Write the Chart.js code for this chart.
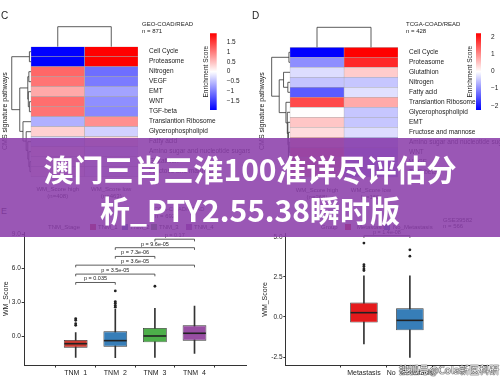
<!DOCTYPE html>
<html><head><meta charset="utf-8">
<script src="https://cdn.jsdelivr.net/npm/chart.js@4.4.1/dist/chart.umd.min.js"></script>
<style>
html,body{margin:0;padding:0;background:#fff;width:500px;height:381px;overflow:hidden;font-family:"Liberation Sans",Arial,sans-serif;}
canvas{position:absolute;}
.t{position:absolute;white-space:nowrap;color:#222;line-height:1;}
.vt{position:absolute;white-space:nowrap;color:#222;line-height:1;transform-origin:0 0;transform:rotate(-90deg);}
.sq{position:absolute;width:6px;height:6px;}
#banner{position:absolute;left:0;top:138px;width:500px;height:99px;background:rgba(139,62,170,0.87);z-index:10;}
#banner div{position:absolute;left:0;width:500px;text-align:center;color:#fff;font-family:"Noto Sans CJK SC",sans-serif;font-weight:700;font-size:30px;line-height:30px;}
#wm{position:absolute;left:399px;top:364px;font-family:"Noto Sans CJK SC",sans-serif;font-size:10px;line-height:12px;color:#fff;z-index:11;text-shadow:0 0 1px #000,0 0 1px #000,0 0 1px #333;}
</style></head><body>

<canvas id="heatC" width="250" height="200" style="left:0;top:0"></canvas>
<canvas id="barC" width="48" height="95" style="left:195px;top:25px"></canvas>
<canvas id="heatD" width="250" height="200" style="left:250px;top:0"></canvas>
<canvas id="barD" width="40" height="95" style="left:460px;top:25px"></canvas>
<canvas id="boxE" width="250" height="156" style="left:0;top:225px"></canvas>
<canvas id="boxF" width="250" height="156" style="left:250px;top:225px"></canvas>

<div class="t" style="left:1px;top:11px;font-size:10px">C</div>
<div class="t" style="left:252px;top:11px;font-size:10px">D</div>
<div class="t" style="left:1px;top:207px;font-size:9px">E</div>
<div class="t" style="left:142px;top:21px;font-size:6px">GEO-COAD/READ</div>
<div class="t" style="left:142px;top:28px;font-size:6px">n = 871</div>
<div class="t" style="left:406px;top:21px;font-size:6px">TCGA-COAD/READ</div>
<div class="t" style="left:406px;top:28px;font-size:6px">n = 428</div>
<div class="vt" style="left:1px;top:150px;font-size:7px">CMS signature pathways</div>
<div class="vt" style="left:258px;top:150px;font-size:7px">CMS signature pathways</div>

<div class="t" style="left:150px;top:206px;font-size:6px">TCGA-COAD/READ</div>
<div class="t" style="left:155px;top:213px;font-size:6px">n = 692</div>
<div class="t" style="left:48px;top:224px;font-size:6px">TNM_Stage</div>
<div class="sq" style="left:90px;top:224px;background:#cc3a30"></div><div class="t" style="left:98px;top:224px;font-size:6px">TNM_1</div>
<div class="sq" style="left:122px;top:224px;background:#377eb8"></div><div class="t" style="left:130px;top:224px;font-size:6px">TNM_2</div>
<div class="sq" style="left:151px;top:224px;background:#4daf4a"></div><div class="t" style="left:159px;top:224px;font-size:6px">TNM_3</div>
<div class="sq" style="left:186px;top:224px;background:#984ea3"></div><div class="t" style="left:194px;top:224px;font-size:6px">TNM_4</div>

<div class="t" style="left:321px;top:224px;font-size:6px">Group</div>
<div class="sq" style="left:345px;top:224px;background:#e41a1c"></div><div class="t" style="left:357px;top:224px;font-size:6px">Metastasis</div>
<div class="sq" style="left:384px;top:224px;background:#377eb8"></div><div class="t" style="left:393px;top:224px;font-size:6px">No_Metastasis</div>
<div class="t" style="left:443px;top:217px;font-size:6px">GSE39582</div>
<div class="t" style="left:443px;top:223px;font-size:6px">n = 566</div>

<div id="banner">
  <div style="top:15px">澳门三肖三淮100准详尽评估分</div>
  <div style="top:56px">析_PTY2.55.38瞬时版</div>
</div>
<div id="wm">搜狐号@Cola新医科研</div>

<script>
// ---------- DATA ----------
const rowsC = ['Cell Cycle','Proteasome','Nitrogen','VEGF','EMT','WNT','TGF-beta','Translantion Ribosome','Glycerophospholipid','Fatty acid','Amino sugar and nucleotide sugars','Glutathion','Fructose and mannose'];
const highC = [-1.93,-1.93,1.15,1.05,0.65,1.1,1.05,-0.6,0.35,-0.3,0.25,0.2,0.2];
const lowC  = [1.93,1.93,-1.1,-1.0,-0.7,-0.85,-0.9,0.85,-0.35,0.3,-0.25,-0.2,-0.2];
const colNamesC = ['WM_Score high','WM_Score low'];
const colNC = ['(n=408)','(n=463)'];
const dendAC = [0,2,5,4,14,11,10,9,8,7,17,13];
const dendBC = [1,3,6,15,16,12,18,19,20,21,22,23];
const dendHC = [0.03,0.04,0.03,0.05,0.06,0.02,0.04,0.06,0.09,0.15,0.21,0.36];
const topHC = 0.374;
const scaleC = 1.93;
const cbTicksC = [1.5,1,0.5,0,-0.5,-1,-1.5];

const rowsD = ['Cell Cycle','Proteasome','Glutathion','Nitrogen','Fatty acid','Translantion Ribosome','Glycerophospholipid','EMT','Fructose and mannose','Amino sugar and nucleotide sugars','WNT','VEGF','TGF-beta'];
const highD = [-2.25,-1.0,-0.3,-0.52,-1.45,1.6,0.02,0.5,0.3,0.8,1.2,1.0,0.9];
const lowD  = [2.25,1.9,0.45,-0.5,-0.27,0.75,-0.5,-0.5,-0.3,-0.7,-0.9,-0.8,-0.8];
const colNamesD = ['WM_Score high','WM_Score low'];
const colND = ['(n=268)','(n=160)'];
const dendAD = [0,3,2,9,11,16,8,7,6,5,15,13];
const dendBD = [1,4,14,10,12,17,18,19,20,21,22,23];
const dendHD = [0.02,0.04,0.12,0.015,0.015,0.025,0.03,0.04,0.05,0.075,0.2,0.34];
const topHD = 0.37;
const scaleD = 2.25;
const cbTicksD = [2,1,0,-1,-2];

const tnmLabels = ['TNM_1','TNM_2','TNM_3','TNM_4'];
const tnmN = ['(n=33)','(n=337)','(n=262)','(n=60)'];
const tnmColors = ['#cc3a30','#377eb8','#4daf4a','#984ea3'];
const eLow  = [-1.83,-1.86,-1.83,-1.47];
const eQ1   = [-0.97,-0.88,-0.5,-0.35];
const eMed  = [-0.62,-0.35,0.06,0.3];
const eQ3   = [-0.29,0.47,0.77,1.0];
const eHigh = [0.35,2.42,2.5,2.7];
const eOutGroup = [1,1,1,1,2,2,2,2,2,3];
const eOutValue = [1.6,1.45,1.15,1.0,4.04,3.1,2.95,2.75,2.6,4.45];
const eBrFrom = [1,1,1,2,2,3];
const eBrTo   = [2,3,4,3,4,4];
const eBrY    = [4.78,5.52,6.31,7.08,7.85,8.6];
const eBrLab  = ['p = 0.035','p = 3.5e-05','p = 3.6e-05','p = 7.3e-06','p = 9.6e-05','p = 0.17'];
const eTicks  = [0,3,6,9];

const grpLabels = ['Metastasis','No_Metastasis'];
const grpN = ['(n=186)','(n=380)'];
const grpColors = ['#e41a1c','#377eb8'];
const fLow  = [-1.69,-2.52];
const fQ1   = [-0.35,-0.83];
const fMed  = [0.27,-0.21];
const fQ3   = [0.9,0.54];
const fHigh = [2.58,2.58];
const fOutGroup = [1,1,1,1,1,2,2];
const fOutValue = [4.62,3.27,3.15,3.0,2.9,4.2,3.8];
const fBrFrom = [1];
const fBrTo   = [2];
const fBrY    = [5.08];
const fBrLab  = ['p = 1.4e-08'];
const fTicks  = [-2.5,0,2.5,5];

// ---------- HELPERS ----------
Chart.defaults.font.family = "'Liberation Sans', Arial, sans-serif";
Chart.defaults.color = '#222';
Chart.defaults.animation = false;
Chart.defaults.plugins.legend.display = false;
Chart.defaults.plugins.tooltip.enabled = false;

function heatColor(v, vmax){
  const t = Math.min(1, Math.abs(v)/vmax);
  const c = Math.round(255*(1-t));
  return v < 0 ? `rgb(${c},${c},255)` : `rgb(255,${c},${c})`;
}
function minusFmt(v){ return v < 0 ? '\u2212' + Math.abs(v) : String(v); }

const dendroPlugin = {
  id:'dendro',
  afterDraw(chart, args, o){
    const {ctx, scales:{x, y}, chartArea} = chart;
    const n = o.leaves;
    const pos = [], hgt = [];
    for (let i=0;i<n;i++){ pos.push(y.getPixelForValue(i)); hgt.push(0); }
    ctx.save();
    ctx.strokeStyle = '#333'; ctx.lineWidth = 0.8;
    o.a.forEach((a,k)=>{
      const b = o.b[k], h = o.h[k];
      const xa = x.getPixelForValue(-hgt[a]), xb = x.getPixelForValue(-hgt[b]), xm = x.getPixelForValue(-h);
      ctx.beginPath();
      ctx.moveTo(xa,pos[a]); ctx.lineTo(xm,pos[a]); ctx.lineTo(xm,pos[b]); ctx.lineTo(xb,pos[b]);
      ctx.stroke();
      pos.push((pos[a]+pos[b])/2); hgt.push(h);
    });
    const unit = x.getPixelForValue(1) - x.getPixelForValue(0);
    const t0 = chartArea.top, t1 = chartArea.top - o.topH*unit;
    const c0 = x.getPixelForValue(0.5), c1 = x.getPixelForValue(1.5);
    ctx.beginPath();
    ctx.moveTo(c0,t0); ctx.lineTo(c0,t1); ctx.lineTo(c1,t1); ctx.lineTo(c1,t0);
    ctx.stroke();
    ctx.restore();
  }
};

function heatChart(id, rows, vHigh, vLow, vmax, colNames, colN, dA, dB, dH, topH, xMin, padLeft, padTop, xH, yW){
  new Chart(document.getElementById(id), {
    type:'bar',
    data:{labels: rows, datasets:[
      {data: rows.map(()=>1), backgroundColor: vHigh.map(v=>heatColor(v,vmax)), borderColor:'#a8a8a8', borderWidth:0.5, borderSkipped:false},
      {data: rows.map(()=>1), backgroundColor: vLow.map(v=>heatColor(v,vmax)), borderColor:'#a8a8a8', borderWidth:0.5, borderSkipped:false}
    ]},
    options:{
      indexAxis:'y', responsive:false,
      layout:{padding:{left:padLeft, top:padTop, right:0, bottom:0}},
      datasets:{bar:{barPercentage:1, categoryPercentage:1}},
      scales:{
        x:{type:'linear', stacked:true, min:xMin, max:2,
           afterBuildTicks:a=>{ a.ticks = [{value:0.5},{value:1.5}]; },
           ticks:{callback:(v)=>[colNames[Math.floor(v)], colN[Math.floor(v)]], font:{size:6}, padding:1, maxRotation:0, autoSkip:false, color:'#222'},
           grid:{display:false}, border:{display:false}, afterFit:s=>{ s.height = xH; }},
        y:{position:'right', stacked:true,
           ticks:{font:{size:6.5}, padding:3, autoSkip:false, color:'#222'},
           grid:{display:false}, border:{display:false}, afterFit:s=>{ s.width = yW; }}
      },
      plugins:{dendro:{leaves:rows.length, a:dA, b:dB, h:dH, topH:topH}}
    },
    plugins:[dendroPlugin]
  });
}

function colorBar(id, vmax, ticks, leftW, rightW, titlePad){
  new Chart(document.getElementById(id), {
    type:'bar',
    data:{labels:[''], datasets:[{
      data:[[-vmax, vmax]],
      backgroundColor:(c)=>{
        const ca = c.chart.chartArea; if(!ca) return '#fff';
        const g = c.chart.ctx.createLinearGradient(0, ca.bottom, 0, ca.top);
        g.addColorStop(0,'rgb(0,0,255)'); g.addColorStop(0.5,'rgb(255,255,255)'); g.addColorStop(1,'rgb(255,0,0)');
        return g;
      },
      barPercentage:1, categoryPercentage:1
    }]},
    options:{
      responsive:false,
      layout:{padding:{top:8.3, bottom:10, left:0, right:0}},
      scales:{
        x:{display:false},
        y:{position:'right', min:-vmax, max:vmax,
           afterBuildTicks:a=>{ a.ticks = ticks.map(v=>({value:v})); },
           ticks:{callback:minusFmt, font:{size:6.5}, padding:2, color:'#222'},
           grid:{display:false}, border:{display:false}, afterFit:s=>{ s.width = rightW; }},
        yl:{position:'left', min:0, max:1, ticks:{display:false}, grid:{display:false}, border:{display:false},
            title:{display:true, text:'Enrichment Score', font:{size:6.5}, color:'#222', padding:{top:titlePad, bottom:0}},
            afterFit:s=>{ s.width = leftW; }}
      }
    }
  });
}

const boxPlugin = {
  id:'boxextra',
  afterDraw(chart, args, o){
    const {ctx, scales:{x, y}} = chart;
    ctx.save();
    const meta = chart.getDatasetMeta(1);
    ctx.strokeStyle = '#222'; ctx.lineWidth = 1.6;
    meta.data.forEach((el,i)=>{
      const yy = y.getPixelForValue(o.med[i]);
      ctx.beginPath(); ctx.moveTo(el.x - el.width/2 + 0.5, yy); ctx.lineTo(el.x + el.width/2 - 0.5, yy); ctx.stroke();
    });
    ctx.strokeStyle = '#333'; ctx.lineWidth = 0.8;
    ctx.fillStyle = '#222'; ctx.font = "5.5px 'Liberation Sans', Arial, sans-serif";
    ctx.textAlign = 'center'; ctx.textBaseline = 'bottom';
    o.from.forEach((f,k)=>{
      const x0 = x.getPixelForValue(f), x1 = x.getPixelForValue(o.to[k]), yy = y.getPixelForValue(o.y[k]);
      ctx.beginPath(); ctx.moveTo(x0, yy+2.2); ctx.lineTo(x0, yy); ctx.lineTo(x1, yy); ctx.lineTo(x1, yy+2.2); ctx.stroke();
      ctx.fillText(o.lab[k], (x0+x1)/2, yy - 0.8);
    });
    ctx.restore();
  }
};

function boxChart(id, labels, nLabels, colors, low, q1, med, q3, high, outG, outV, brFrom, brTo, brY, brLab, yMin, yMax, yTicks, padTop, padRight, yW, titlePad){
  const xs = labels.map((_,i)=>i+1);
  const xAxisBase = {type:'linear', min:0.4, max:labels.length+0.6,
     afterBuildTicks:a=>{ a.ticks = xs.map(v=>({value:v})); }};
  new Chart(document.getElementById(id), {
    type:'bar',
    data:{datasets:[
      {type:'bar', order:3, grouped:false, data: xs.map((v,i)=>({x:v, y:[low[i], high[i]]})), backgroundColor:'#333', barThickness:1},
      {type:'bar', order:2, grouped:false, data: xs.map((v,i)=>({x:v, y:[q1[i], q3[i]]})), backgroundColor:colors, borderColor:'#333', borderWidth:0.8, borderSkipped:false, barPercentage:0.6, categoryPercentage:1},
      {type:'scatter', order:1, data: outG.map((g,k)=>({x:g, y:outV[k]})), pointRadius:1.4, backgroundColor:'#222', borderWidth:0}
    ]},
    options:{
      responsive:false,
      layout:{padding:{top:padTop, right:padRight, left:0, bottom:0}},
      scales:{
        x:Object.assign({}, xAxisBase, {weight:0,
           ticks:{callback:(v)=>labels[v-1], font:{size:7}, padding:1, maxRotation:0, autoSkip:false, color:'#222'},
           grid:{display:true, drawOnChartArea:false, drawTicks:true, tickLength:2.5, color:'#333'},
           border:{display:true, color:'#333', width:1}, afterFit:s=>{ s.height = 11; }}),
        x2:Object.assign({}, xAxisBase, {position:'bottom', weight:1,
           ticks:{callback:(v)=>nLabels[v-1], font:{size:5.5}, padding:0, maxRotation:0, autoSkip:false, color:'#222'},
           grid:{display:false}, border:{display:false}, afterFit:s=>{ s.height = 5; }}),
        y:{type:'linear', min:yMin, max:yMax,
           afterBuildTicks:a=>{ a.ticks = yTicks.map(v=>({value:v})); },
           ticks:{callback:(v)=>v.toFixed(1), font:{size:6.5}, padding:0.8, color:'#222'},
           grid:{display:true, drawOnChartArea:false, drawTicks:true, tickLength:2.5, color:'#333'},
           border:{display:true, color:'#333', width:1},
           title:{display:true, text:'WM_Score', font:{size:7}, color:'#222', padding:{top:titlePad, bottom:0}},
           afterFit:s=>{ s.width = yW; }}
      },
      plugins:{boxextra:{med:med, from:brFrom, to:brTo, y:brY, lab:brLab}}
    },
    plugins:[boxPlugin]
  });
}

heatChart('heatC', rowsC, highC, lowC, scaleC, colNamesC, colNC, dendAC, dendBC, dendHC, topHC, -0.4, 9.6, 46.7, 23.3, 112);
heatChart('heatD', rowsD, highD, lowD, scaleD, colNamesD, colND, dendAD, dendBD, dendHD, topHD, -0.38, 19.5, 47.3, 22.7, 102);
colorBar('barC', scaleC, cbTicksC, 15, 26.3, 7);
colorBar('barD', scaleD, cbTicksD, 16, 19, 6);
boxChart('boxE', tnmLabels, tnmN, tnmColors, eLow, eQ1, eMed, eQ3, eHigh, eOutGroup, eOutValue, eBrFrom, eBrTo, eBrY, eBrLab, -2.5, 9.2, eTicks, 7.4, 3.2, 24.2, 1.5);
boxChart('boxF', grpLabels, grpN, grpColors, fLow, fQ1, fMed, fQ3, fHigh, fOutGroup, fOutValue, fBrFrom, fBrTo, fBrY, fBrLab, -3.0, 5.2, fTicks, 8.8, 12, 35.8, 10.5);
</script>
</body></html>
